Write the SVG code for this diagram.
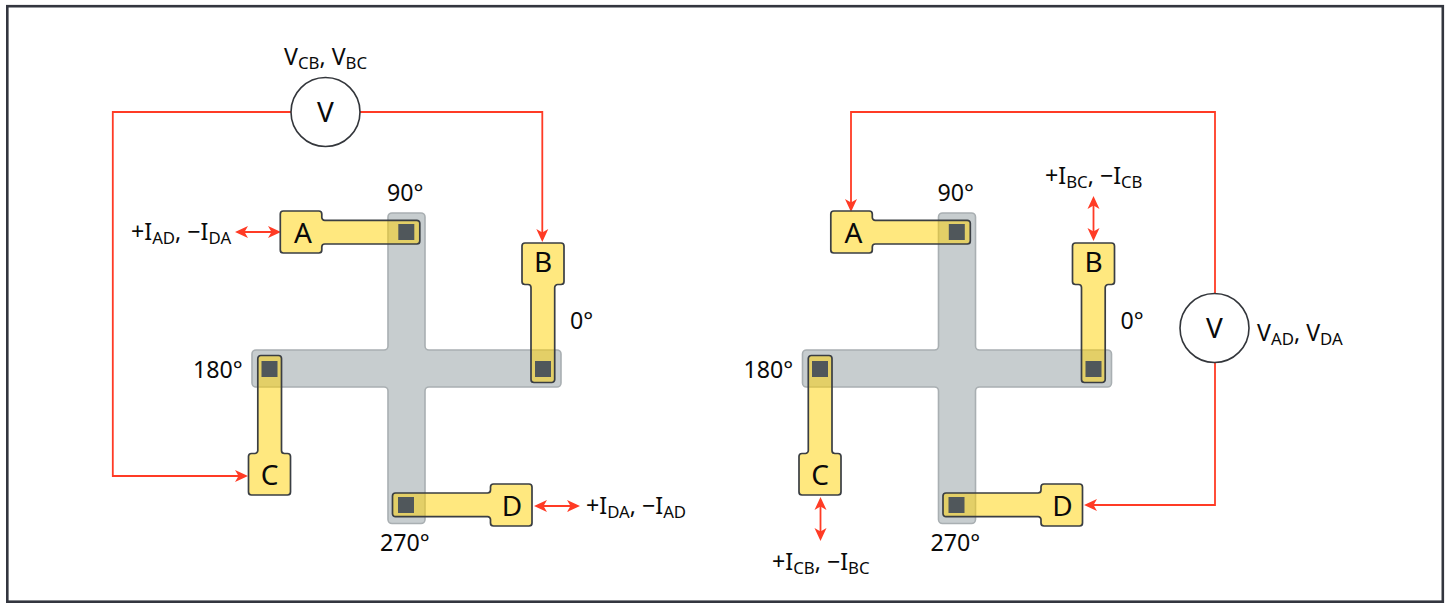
<svg xmlns="http://www.w3.org/2000/svg" width="1450" height="606" viewBox="0 0 1450 606">
<style>
text{font-family:"Noto Sans","Open Sans","Liberation Sans",sans-serif;fill:#0a0a0a}
.l{font-size:23.200px}
.s{font-size:16.800px}
.n{font-size:28px;text-anchor:middle}
.w{fill:none;stroke:#ff3b25;stroke-width:1.800}
.d{marker-start:url(#ah);marker-end:url(#ah)}
.e{marker-end:url(#ah)}
.m{fill:#fff;stroke:#33363b;stroke-width:1.600}
.cross{fill:#c7cdcf;stroke:#a9afb2;stroke-width:1.600}
.arm{fill:#ffd100;fill-opacity:.5;stroke:#3a3e43;stroke-width:1.700;stroke-linejoin:round}
.pad{fill:#50575b}
</style>
<defs>
<marker id="ah" markerUnits="userSpaceOnUse" markerWidth="13" markerHeight="13" refX="10" refY="6.500" orient="auto-start-reverse" viewBox="0 0 13 13"><path d="M13,6.500 L0,0.500 L3.500,6.500 L0,12.500 Z" fill="#ff3b25"/></marker>
<path id="cr" class="cross" d="M-14.5,-155.5 H14.5 a4,4 0 0 1 4,4 V-22.5 a4,4 0 0 0 4,4 H150.5 a4,4 0 0 1 4,4 V14.5 a4,4 0 0 1 -4,4 H22.5 a4,4 0 0 0 -4,4 V151 a4,4 0 0 1 -4,4 H-14.5 a4,4 0 0 1 -4,-4 V22.5 a4,4 0 0 0 -4,-4 H-150.5 a4,4 0 0 1 -4,-4 V-14.5 a4,4 0 0 1 4,-4 H-22.5 a4,4 0 0 0 4,-4 V-151.5 a4,4 0 0 1 4,-4 Z"/>
<g id="dev">
<path class="arm" d="M-123,-21 H-87.500 a3,3 0 0 1 3,3 v3 a3,3 0 0 0 3,3.300 H10.500 a3,3 0 0 1 3,3 V9 a3,3 0 0 1 -3,3 H-81.500 a3,3 0 0 0 -3,3 v3 a3,3 0 0 1 -3,3 H-123 a3,3 0 0 1 -3,-3 V-18 a3,3 0 0 1 3,-3 Z"/>
<rect class="pad" x="-8" y="-8" width="16" height="16"/>
</g>
</defs>
<rect id="frame" x="7.300" y="6.200" width="1435.500" height="595.500" fill="#fff" stroke="#33363f" stroke-width="2.600"/>
<g id="connectors">
<path class="w e" d="M291,112 H112.800 V476 H245"/>
<path class="w e" d="M360,112 H542.300 V239"/>
<path class="w d" d="M238,232 H278"/>
<path class="w d" d="M537,506 H577"/>
<path class="w e" d="M1215,293 V112 H851 V209"/>
<path class="w e" d="M1215,363 V505 H1087"/>
<path class="w d" d="M1093.500,199 V238"/>
<path class="w d" d="M820.500,500 V538"/>
</g>
<g id="left-cross"><use href="#cr" x="406.500" y="368.500"/></g>
<g id="left-A"><use href="#dev" transform="translate(406.300,232)"/><text class="n" x="303" y="243">A</text></g>
<g id="left-B"><use href="#dev" transform="translate(543,369) rotate(90)"/><text class="n" x="543" y="272">B</text></g>
<g id="left-C"><use href="#dev" transform="translate(269.500,369) rotate(-90)"/><text class="n" x="269.500" y="485">C</text></g>
<g id="left-D"><use href="#dev" transform="translate(406,505) rotate(180)"/><text class="n" x="512" y="516">D</text></g>
<g id="right-cross"><use href="#cr" x="957" y="368.500"/></g>
<g id="right-A"><use href="#dev" transform="translate(956.800,232)"/><text class="n" x="853.500" y="243">A</text></g>
<g id="right-B"><use href="#dev" transform="translate(1093.500,369) rotate(90)"/><text class="n" x="1093.500" y="272">B</text></g>
<g id="right-C"><use href="#dev" transform="translate(820,369) rotate(-90)"/><text class="n" x="820" y="485">C</text></g>
<g id="right-D"><use href="#dev" transform="translate(956.500,505) rotate(180)"/><text class="n" x="1062.500" y="516">D</text></g>
<g id="meter-left"><circle class="m" cx="325.500" cy="112" r="34.500"/><text class="n" x="325.500" y="122">V</text></g>
<g id="meter-right"><circle class="m" cx="1214.500" cy="328" r="34.500"/><text class="n" x="1214.500" y="338">V</text></g>
<g id="labels">
<text class="l" x="284" y="65">V<tspan class="s" dy="4">CB</tspan><tspan dy="-4">, V</tspan><tspan class="s" dy="4">BC</tspan></text>
<text class="l" x="131" y="240">+I<tspan class="s" dy="4">AD</tspan><tspan dy="-4">, −I</tspan><tspan class="s" dy="4">DA</tspan></text>
<text class="l" x="586" y="514">+I<tspan class="s" dy="4">DA</tspan><tspan dy="-4">, −I</tspan><tspan class="s" dy="4">AD</tspan></text>
<text class="l" x="387" y="201">90°</text>
<text class="l" x="570" y="329">0°</text>
<text class="l" x="193" y="378">180°</text>
<text class="l" x="380" y="551">270°</text>
<text class="l" x="937.500" y="201">90°</text>
<text class="l" x="1120.500" y="329">0°</text>
<text class="l" x="743.500" y="378">180°</text>
<text class="l" x="930.500" y="551">270°</text>
<text class="l" x="1045" y="184">+I<tspan class="s" dy="4">BC</tspan><tspan dy="-4">, −I</tspan><tspan class="s" dy="4">CB</tspan></text>
<text class="l" x="772" y="570">+I<tspan class="s" dy="4">CB</tspan><tspan dy="-4">, −I</tspan><tspan class="s" dy="4">BC</tspan></text>
<text class="l" x="1257" y="341">V<tspan class="s" dy="4">AD</tspan><tspan dy="-4">, V</tspan><tspan class="s" dy="4">DA</tspan></text>
</g>
</svg>
